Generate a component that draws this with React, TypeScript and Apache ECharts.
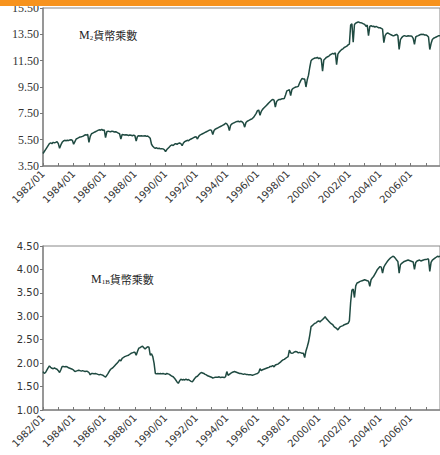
import React, { useEffect, useRef } from "react";
import * as echarts from "echarts";

// Monthly observations, 1982/01 – 2007/12
const firstYear = 1982;
const lastYear = 2007;

const monthLabels: string[] = [];
for (let y = firstYear; y <= lastYear; y++) {
  for (let m = 1; m <= 12; m++) {
    monthLabels.push(`${y}/${m < 10 ? "0" + m : m}`);
  }
}

// M2 money multiplier
const m2Multiplier: number[] = [
  4.45, 4.6, 4.75, 4.9, 5.05, 5.2, 5.25, 5.2, 5.3, 5.25, 5.3, 5.35, // 1982
  5.2, 4.85, 5.1, 5.3, 5.4, 5.45, 5.42, 5.45, 5.43, 5.48, 5.5, 5.45, // 1983
  5.15, 5.35, 5.55, 5.6, 5.65, 5.7, 5.72, 5.75, 5.8, 5.87, 5.85, 5.9, // 1984
  5.3, 5.75, 5.95, 6.0, 6.05, 6.1, 6.15, 6.2, 6.25, 6.22, 6.28, 6.2, // 1985
  6.25, 5.65, 6.1, 6.15, 6.12, 6.1, 6.15, 6.12, 6.08, 6.1, 6.05, 6.0, // 1986
  5.95, 5.55, 5.9, 5.88, 5.85, 5.87, 5.85, 5.82, 5.85, 5.83, 5.8, 5.85, // 1987
  5.8, 5.4, 5.75, 5.8, 5.78, 5.8, 5.77, 5.78, 5.8, 5.75, 5.78, 5.7, // 1988
  5.6, 5.15, 5.0, 4.9, 4.85, 4.88, 4.82, 4.85, 4.8, 4.82, 4.8, 4.75, // 1989
  4.6, 4.75, 4.85, 4.95, 5.05, 5.1, 5.05, 5.15, 5.2, 5.15, 5.22, 5.25, // 1990
  5.2, 5.05, 5.25, 5.35, 5.4, 5.45, 5.42, 5.5, 5.55, 5.6, 5.65, 5.7, // 1991
  5.72, 5.55, 5.75, 5.85, 5.9, 5.95, 6.0, 6.05, 6.1, 6.15, 6.2, 6.25, // 1992
  6.2, 5.9, 6.2, 6.3, 6.35, 6.4, 6.45, 6.5, 6.55, 6.6, 6.65, 6.75, // 1993
  6.7, 6.55, 6.2, 6.6, 6.7, 6.75, 6.8, 6.85, 6.88, 6.9, 6.85, 6.9, // 1994
  6.85, 6.75, 6.45, 6.8, 6.9, 6.95, 7.0, 7.05, 7.1, 7.2, 7.35, 7.5, // 1995
  7.7, 7.75, 7.35, 7.65, 7.8, 7.9, 8.0, 8.1, 8.2, 8.3, 8.4, 8.5, // 1996
  8.55, 8.5, 7.98, 8.4, 8.5, 8.55, 8.55, 8.6, 8.6, 8.62, 8.9, 9.2, // 1997
  9.25, 9.3, 8.84, 9.3, 9.4, 9.45, 9.5, 9.52, 9.55, 9.8, 10.0, 10.15, // 1998
  10.1, 10.1, 9.5, 10.05, 10.4, 11.0, 11.5, 11.6, 11.65, 11.7, 11.7, 11.75, // 1999
  11.65, 11.7, 11.6, 10.7, 11.55, 11.65, 11.75, 11.8, 11.85, 11.95, 12.0, 12.05, // 2000
  12.0, 12.1, 11.2, 12.0, 12.15, 12.25, 12.35, 12.4, 12.5, 12.55, 12.6, 12.7, // 2001
  12.75, 14.2, 14.3, 12.9, 14.25, 14.35, 14.4, 14.45, 14.4, 14.38, 14.35, 14.3, // 2002
  14.25, 14.1, 14.2, 13.4, 14.1, 14.15, 14.1, 14.12, 14.05, 14.1, 14.05, 14.0, // 2003
  14.0, 13.95, 13.9, 12.87, 13.4, 13.55, 13.6, 13.55, 13.5, 13.45, 13.4, 13.4, // 2004
  13.45, 13.5, 13.4, 12.35, 13.1, 13.25, 13.35, 13.4, 13.37, 13.35, 13.4, 13.38, // 2005
  13.37, 13.35, 13.2, 12.74, 13.3, 13.37, 13.4, 13.45, 13.5, 13.48, 13.5, 13.45, // 2006
  13.45, 13.4, 13.3, 12.35, 12.8, 13.1, 13.2, 13.25, 13.3, 13.35, 13.4, 13.4, // 2007
];

// M1B money multiplier
const m1bMultiplier: number[] = [
  1.82, 1.78, 1.8, 1.85, 1.9, 1.94, 1.91, 1.89, 1.88, 1.9, 1.88, 1.87, // 1982
  1.84, 1.8, 1.86, 1.93, 1.93, 1.92, 1.93, 1.92, 1.9, 1.89, 1.88, 1.87, // 1983
  1.85, 1.82, 1.83, 1.84, 1.85, 1.84, 1.83, 1.84, 1.83, 1.82, 1.83, 1.82, // 1984
  1.8, 1.75, 1.78, 1.78, 1.77, 1.78, 1.77, 1.76, 1.75, 1.76, 1.75, 1.74, // 1985
  1.72, 1.7, 1.74, 1.78, 1.83, 1.87, 1.89, 1.91, 1.94, 1.97, 2.0, 2.03, // 1986
  2.07, 2.05, 2.1, 2.12, 2.14, 2.15, 2.16, 2.17, 2.19, 2.21, 2.22, 2.23, // 1987
  2.23, 2.17, 2.25, 2.32, 2.33, 2.35, 2.36, 2.33, 2.3, 2.33, 2.35, 2.34, // 1988
  2.17, 2.2, 2.14, 2.0, 1.78, 1.77, 1.78, 1.77, 1.78, 1.77, 1.78, 1.77, // 1989
  1.76, 1.78, 1.77, 1.76, 1.74, 1.72, 1.71, 1.68, 1.64, 1.6, 1.57, 1.62, // 1990
  1.66, 1.64, 1.65, 1.64, 1.66, 1.64, 1.65, 1.63, 1.61, 1.6, 1.64, 1.68, // 1991
  1.71, 1.72, 1.75, 1.78, 1.8, 1.79, 1.78, 1.76, 1.75, 1.73, 1.72, 1.71, // 1992
  1.7, 1.68, 1.69, 1.7, 1.7, 1.7, 1.71, 1.69, 1.7, 1.7, 1.69, 1.71, // 1993
  1.82, 1.74, 1.76, 1.78, 1.8, 1.81, 1.82, 1.81, 1.8, 1.79, 1.78, 1.78, // 1994
  1.77, 1.76, 1.77, 1.76, 1.76, 1.75, 1.75, 1.75, 1.74, 1.75, 1.76, 1.77, // 1995
  1.78, 1.8, 1.88, 1.84, 1.86, 1.87, 1.88, 1.89, 1.9, 1.91, 1.93, 1.93, // 1996
  1.95, 1.92, 1.96, 1.97, 1.98, 2.0, 2.02, 2.05, 2.07, 2.08, 2.1, 2.12, // 1997
  2.14, 2.28, 2.22, 2.21, 2.22, 2.24, 2.25, 2.24, 2.22, 2.23, 2.22, 2.21, // 1998
  2.21, 2.12, 2.26, 2.35, 2.45, 2.6, 2.78, 2.8, 2.83, 2.85, 2.86, 2.89, // 1999
  2.9, 2.88, 2.91, 2.93, 2.96, 2.99, 2.95, 2.92, 2.89, 2.86, 2.84, 2.82, // 2000
  2.78, 2.76, 2.74, 2.71, 2.75, 2.78, 2.79, 2.8, 2.82, 2.83, 2.84, 2.85, // 2001
  2.9, 3.3, 3.56, 3.58, 3.4, 3.65, 3.71, 3.72, 3.74, 3.75, 3.76, 3.77, // 2002
  3.78, 3.77, 3.76, 3.75, 3.64, 3.78, 3.82, 3.85, 3.9, 3.95, 4.0, 4.03, // 2003
  4.06, 4.05, 3.92, 4.05, 4.1, 4.14, 4.18, 4.21, 4.24, 4.26, 4.28, 4.27, // 2004
  4.24, 4.2, 4.17, 3.92, 4.1, 4.13, 4.15, 4.17, 4.18, 4.19, 4.2, 4.19, // 2005
  4.18, 4.17, 4.16, 4.0, 4.15, 4.18, 4.19, 4.2, 4.18, 4.19, 4.2, 4.21, // 2006
  4.21, 4.22, 4.22, 3.96, 4.15, 4.2, 4.22, 4.24, 4.26, 4.28, 4.27, 4.28, // 2007
];

const lineColor = "#1f4a41";
const axisColor = "#888888";
const labelColor = "#333333";

function makeXAxis(gridIndex: number) {
  return {
    type: "category" as const,
    gridIndex,
    data: monthLabels,
    boundaryGap: false,
    axisLine: { lineStyle: { color: axisColor, width: 1.5 } },
    axisTick: { inside: true, length: 3, interval: 11, lineStyle: { color: "#777" } },
    axisLabel: {
      interval: 23,
      rotate: 45,
      margin: 6,
      fontFamily: "DejaVu Sans",
      fontSize: 10,
      color: labelColor,
    },
    splitLine: { show: false },
  };
}

export default function App() {
  const ref = useRef<HTMLDivElement>(null);

  useEffect(() => {
    if (!ref.current) return;
    const chart = echarts.init(ref.current, undefined, { renderer: "svg" });
    chart.setOption({
      animation: false,
      backgroundColor: "#ffffff",
      grid: [
        { left: 43, right: -3, top: 8, height: 158, show: true, borderColor: axisColor, borderWidth: 1 },
        { left: 43, right: -3, top: 246, height: 164, show: true, borderColor: axisColor, borderWidth: 1 },
      ],
      xAxis: [makeXAxis(0), makeXAxis(1)],
      yAxis: [
        {
          type: "value",
          gridIndex: 0,
          min: 3.5,
          max: 15.5,
          interval: 2,
          axisLine: { show: true, lineStyle: { color: axisColor, width: 1.5 } },
          axisTick: { show: true, length: 3, lineStyle: { color: "#777" } },
          axisLabel: {
            margin: 4,
            fontFamily: "Liberation Serif",
            fontSize: 12,
            color: labelColor,
            formatter: (v: number) => v.toFixed(2),
          },
          splitLine: { show: false },
        },
        {
          type: "value",
          gridIndex: 1,
          min: 1,
          max: 4.5,
          interval: 0.5,
          axisLine: { show: true, lineStyle: { color: axisColor, width: 1.5 } },
          axisTick: { show: true, length: 3, lineStyle: { color: "#777" } },
          axisLabel: {
            margin: 4,
            fontFamily: "DejaVu Sans",
            fontSize: 10,
            color: labelColor,
            formatter: (v: number) => v.toFixed(2),
          },
          splitLine: { show: false },
        },
      ],
      series: [
        {
          type: "line",
          xAxisIndex: 0,
          yAxisIndex: 0,
          data: m2Multiplier,
          showSymbol: false,
          lineStyle: { color: lineColor, width: 1.5 },
        },
        {
          type: "line",
          xAxisIndex: 1,
          yAxisIndex: 1,
          data: m1bMultiplier,
          showSymbol: false,
          lineStyle: { color: lineColor, width: 1.5 },
        },
      ],
      graphic: [
        {
          type: "rect",
          left: 0,
          top: 0,
          shape: { width: 440, height: 6 },
          style: { fill: "#f7931e" },
          z: 100,
        },
        {
          type: "text",
          left: 79,
          top: 29,
          style: {
            text: "{m|M}{s|2}{c|貨幣乘數}",
            rich: {
              m: { fontFamily: "Liberation Serif", fontSize: 12, fill: "#222" },
              s: { fontFamily: "Liberation Serif", fontSize: 7, fill: "#222", verticalAlign: "bottom" },
              c: { fontFamily: "Noto Sans CJK TC", fontSize: 11, fill: "#222" },
            },
          },
        },
        {
          type: "text",
          left: 91,
          top: 273,
          style: {
            text: "{m|M}{s|1B}{c|貨幣乘數}",
            rich: {
              m: { fontFamily: "Liberation Serif", fontSize: 12, fill: "#222" },
              s: { fontFamily: "Liberation Serif", fontSize: 7, fill: "#222", verticalAlign: "bottom" },
              c: { fontFamily: "Noto Sans CJK TC", fontSize: 11, fill: "#222" },
            },
          },
        },
      ],
    });
    return () => chart.dispose();
  }, []);

  return (
    <div
      ref={ref}
      style={{ position: "fixed", left: 0, top: 0, width: 440, height: 455, background: "#fff" }}
    />
  );
}
